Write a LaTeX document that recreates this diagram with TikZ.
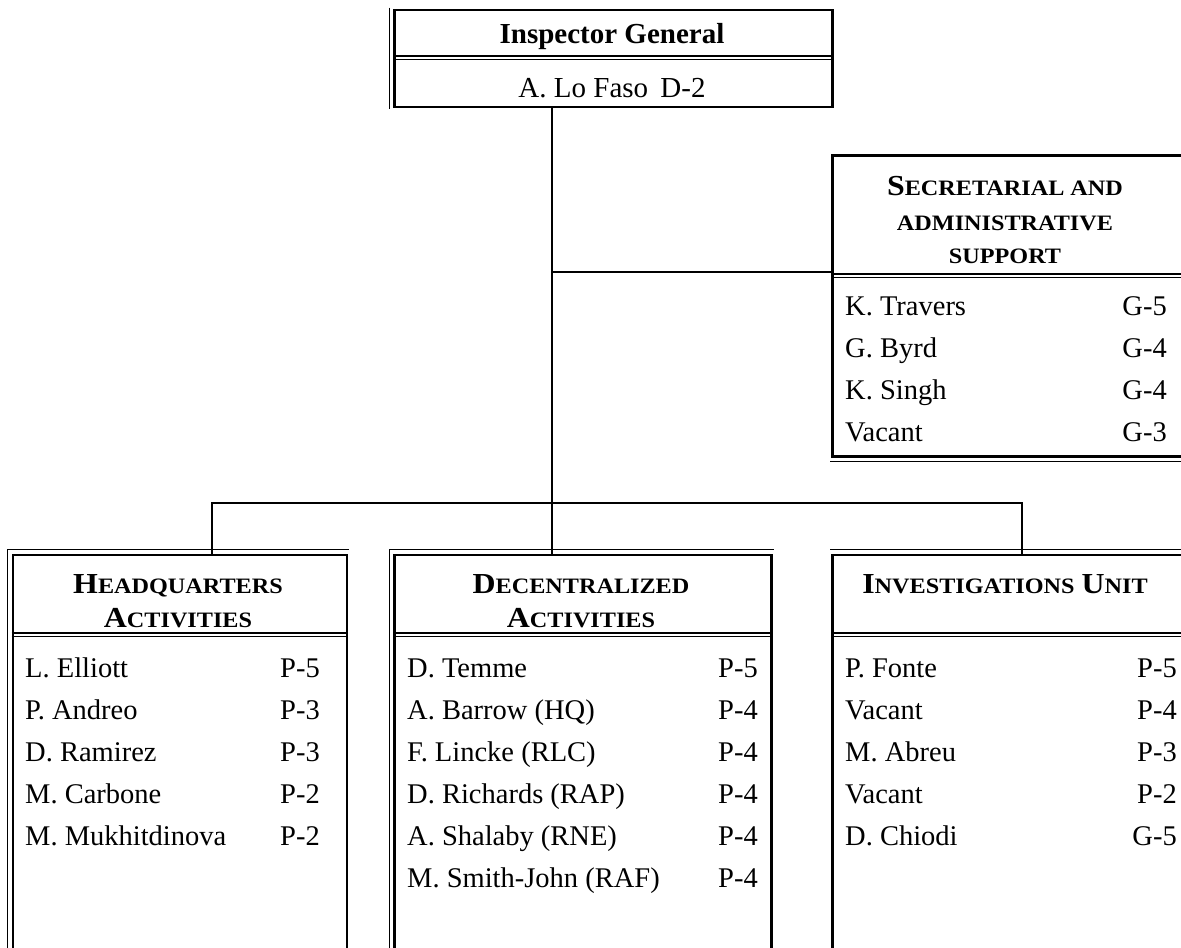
\documentclass[tikz,border=0pt]{standalone}
\usepackage{fontspec}
\setmainfont{Liberation Serif}
\newfontfamily\hdfont[FakeStretch=1.1]{Liberation Serif}
\usetikzlibrary{calc}
\newcommand{\SCap}[2]{{\fontsize{29}{34}\selectfont #1}{\fontsize{22}{26}\selectfont #2}}
\frenchspacing
\begin{document}
\begin{tikzpicture}[x=1pt,y=-1pt,
  orgbox/.style={draw, line width=2.8pt, inner sep=0pt, anchor=north west},
  outline/.style={line width=0.9pt},
  conn/.style={line width=1.8pt},
  divthick/.style={line width=2.4pt},
  divthin/.style={line width=0.9pt},
  row/.style={font=\fontsize{28.5}{32}\selectfont, inner sep=0pt, anchor=base west},
  grade/.style={font=\fontsize{28.5}{32}\selectfont, inner sep=0pt, anchor=base east},
  ighead/.style={font=\fontsize{29}{34}\selectfont, inner sep=0pt, anchor=base},
  head/.style={font=\hdfont\bfseries, inner sep=0pt, anchor=base}
]
\useasboundingbox (0,0) rectangle (1181,948);

% ---------- boxes ----------
\node[orgbox, minimum width=438pt, minimum height=97pt] (ig) at (393,8.5) {};
\node[orgbox, minimum width=364pt, minimum height=301pt] (sec) at (831,154) {};
\node[orgbox, minimum width=334pt, minimum height=420pt] (hq) at (11.5,553.5) {};
\node[orgbox, minimum width=377pt, minimum height=420pt] (da) at (393,553.5) {};
\node[orgbox, minimum width=364pt, minimum height=420pt] (iu) at (831,553.5) {};

% thin outer rules (thin-thick borders)
\draw[outline] ($(ig.north west)+(-3.8,-1)$) -- ($(ig.south west)+(-3.8,1)$);
\foreach \b in {hq,da}{
  \draw[outline] ($(\b.south west)+(-3.8,0)$) -- ($(\b.north west)+(-3.8,-3.8)$) -- ($(\b.north east)+(1,-3.8)$);
}
\draw[outline] ($(iu.north west)+(-1,-3.8)$) -- ($(iu.north east)+(1,-3.8)$);
\draw[outline] ($(sec.south west)+(-1,3.8)$) -- ($(sec.south east)+(1,3.8)$);

% ---------- dividers ----------
\draw[divthick] (ig.west |- 0,56) -- (ig.east |- 0,56);
\draw[divthin] (ig.west |- 0,59.5) -- (ig.east |- 0,59.5);
\foreach \b in {hq,da,iu}{
  \draw[divthick] (\b.west |- 0,633) -- (\b.east |- 0,633);
  \draw[divthin] (\b.west |- 0,636.5) -- (\b.east |- 0,636.5);
}
\draw[divthick] (sec.west |- 0,274) -- (sec.east |- 0,274);
\draw[divthin] (sec.west |- 0,277.5) -- (sec.east |- 0,277.5);

% ---------- connectors ----------
\coordinate (t0) at (552,108);
\coordinate (t1) at (552,272);
\coordinate (t2) at (552,503);
\coordinate (b1) at (212,503);
\coordinate (b3) at (1022,503);
\draw[conn] (t0) -- (t2);
\draw[conn] (t1) -- (t1 -| sec.west);
\draw[conn] (hq.north -| b1) -- (b1) -- (b3) -- (iu.north -| b3);
\draw[conn] (t2) -- (da.north -| t2);

% ---------- Inspector General ----------
\node[ighead, font=\fontsize{29}{34}\selectfont\bfseries] (igt) at (612,43) {Inspector General};
\node[ighead] (ign) at (612,97) {A. Lo Faso\hspace{5pt} D-2};

% ---------- Secretarial ----------
\node[head] (sech1) at (1005,195) {\SCap{S}{ECRETARIAL AND}};
\node[head] (sech2) at (1005,230) {\SCap{}{ADMINISTRATIVE}};
\node[head] (sech3) at (1005,263) {\SCap{}{SUPPORT}};
\node[row] (s1) at (845,315) {K. Travers};   \node[grade] (s1g) at (1167,315) {G-5};
\node[row] (s2) at (845,357) {G. Byrd};      \node[grade] (s2g) at (1167,357) {G-4};
\node[row] (s3) at (845,399) {K. Singh};     \node[grade] (s3g) at (1167,399) {G-4};
\node[row] (s4) at (845,441) {Vacant};       \node[grade] (s4g) at (1167,441) {G-3};

% ---------- Headquarters ----------
\node[head] (hqh1) at (178,593) {\SCap{H}{EADQUARTERS}};
\node[head] (hqh2) at (178,627) {\SCap{A}{CTIVITIES}};
\node[row] (h1) at (25,677) {L. Elliott};       \node[grade] (h1g) at (320,677) {P-5};
\node[row] (h2) at (25,719) {P. Andreo};        \node[grade] (h2g) at (320,719) {P-3};
\node[row] (h3) at (25,761) {D. Ramirez};       \node[grade] (h3g) at (320,761) {P-3};
\node[row] (h4) at (25,803) {M. Carbone};       \node[grade] (h4g) at (320,803) {P-2};
\node[row] (h5) at (25,845) {M. Mukhitdinova};  \node[grade] (h5g) at (320,845) {P-2};

% ---------- Decentralized ----------
\node[head] (dah1) at (581,593) {\SCap{D}{ECENTRALIZED}};
\node[head] (dah2) at (581,627) {\SCap{A}{CTIVITIES}};
\node[row] (d1) at (407,677) {D. Temme};            \node[grade] (d1g) at (758,677) {P-5};
\node[row] (d2) at (407,719) {A. Barrow (HQ)};      \node[grade] (d2g) at (758,719) {P-4};
\node[row] (d3) at (407,761) {F. Lincke (RLC)};     \node[grade] (d3g) at (758,761) {P-4};
\node[row] (d4) at (407,803) {D. Richards (RAP)};   \node[grade] (d4g) at (758,803) {P-4};
\node[row] (d5) at (407,845) {A. Shalaby (RNE)};    \node[grade] (d5g) at (758,845) {P-4};
\node[row] (d6) at (407,887) {M. Smith-John (RAF)}; \node[grade] (d6g) at (758,887) {P-4};

% ---------- Investigations ----------
\node[head] (iuh1) at (1005,593) {\SCap{I}{NVESTIGATIONS}\hspace{7pt}\SCap{U}{NIT}};
\node[row] (i1) at (845,677) {P. Fonte};   \node[grade] (i1g) at (1177,677) {P-5};
\node[row] (i2) at (845,719) {Vacant};     \node[grade] (i2g) at (1177,719) {P-4};
\node[row] (i3) at (845,761) {M. Abreu};   \node[grade] (i3g) at (1177,761) {P-3};
\node[row] (i4) at (845,803) {Vacant};     \node[grade] (i4g) at (1177,803) {P-2};
\node[row] (i5) at (845,845) {D. Chiodi};  \node[grade] (i5g) at (1177,845) {G-5};
\end{tikzpicture}
\end{document}
